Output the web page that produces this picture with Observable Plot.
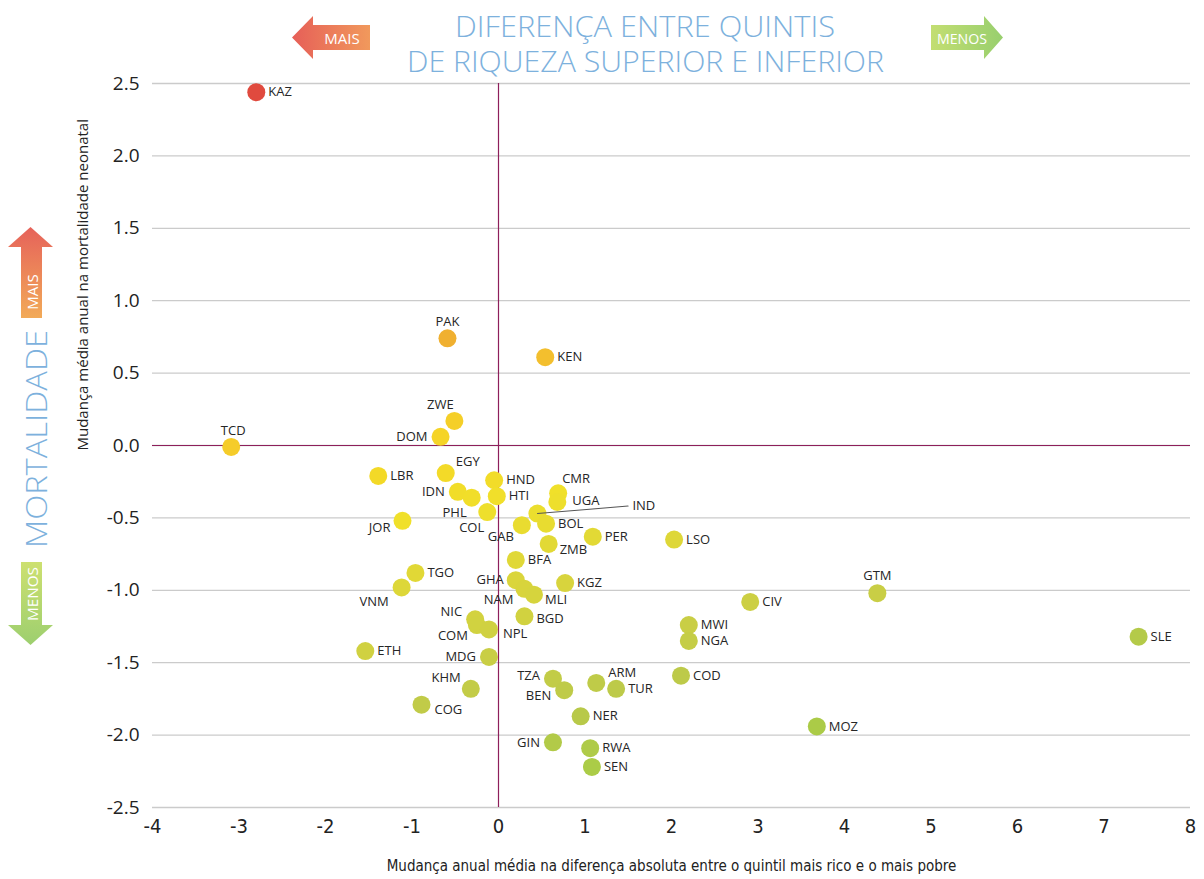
<!DOCTYPE html>
<html><head><meta charset="utf-8">
<script src="https://cdn.jsdelivr.net/npm/d3@7"></script>
<script src="https://cdn.jsdelivr.net/npm/@observablehq/plot@0.6"></script>
<style>
body{margin:0;background:#fff;}
#wrap{width:1204px;}
#head{display:block;margin-bottom:-7px;position:relative;}
#chart svg{display:block;position:relative;}
</style></head><body>
<div id="wrap"><svg id="head" width="1204" height="82"></svg><div id="chart"></div></div>
<script>
// ---- data ----
const countries = ["KAZ","PAK","KEN","ZWE","DOM","TCD","LBR","EGY","HND","IDN","PHL","HTI","CMR","UGA","IND","COL","JOR","GAB","BOL","PER","ZMB","BFA","LSO","TGO","VNM","GHA","NAM","MLI","KGZ","BGD","NIC","COM","NPL","ETH","MDG","KHM","COG","TZA","BEN","ARM","TUR","NER","GIN","RWA","SEN","GTM","CIV","MWI","NGA","SLE","COD","MOZ"];
const gapChange = [-2.80,-0.59,0.54,-0.51,-0.67,-3.09,-1.39,-0.61,-0.05,-0.47,-0.31,-0.02,0.69,0.68,0.45,-0.13,-1.11,0.27,0.55,1.09,0.58,0.20,2.03,-0.96,-1.12,0.20,0.30,0.41,0.77,0.30,-0.27,-0.25,-0.11,-1.54,-0.11,-0.32,-0.89,0.63,0.76,1.13,1.36,0.95,0.63,1.06,1.08,4.38,2.91,2.20,2.20,7.40,2.11,3.68];
const mortalityChange = [2.44,0.74,0.61,0.17,0.06,-0.01,-0.21,-0.19,-0.24,-0.32,-0.36,-0.35,-0.33,-0.39,-0.47,-0.46,-0.52,-0.55,-0.54,-0.63,-0.68,-0.79,-0.65,-0.88,-0.98,-0.93,-0.99,-1.03,-0.95,-1.18,-1.20,-1.24,-1.27,-1.42,-1.46,-1.68,-1.79,-1.61,-1.69,-1.64,-1.68,-1.87,-2.05,-2.09,-2.22,-1.02,-1.08,-1.24,-1.35,-1.32,-1.59,-1.94];
const xTicks = [-4,-3,-2,-1,0,1,2,3,4,5,6,7,8];
const yTicks = [-2.5,-2,-1.5,-1,-0.5,0,0.5,1,1.5,2,2.5];
const xTitle = "Mudança anual média na diferença absoluta entre o quintil mais rico e o mais pobre";
const yTitle = "Mudança média anual na mortalidade neonatal";
const titleLines = ["DIFERENÇA ENTRE QUINTIS","DE RIQUEZA SUPERIOR E INFERIOR"];

// label placement (style): [dx, dy, anchor]; default = right
const labelOffset = {
  PAK:[0,-17,"middle"], TCD:[2,-16,"middle"], GTM:[0,-17,"middle"], ZWE:[-14,-16,"middle"],
  DOM:[-13,0,"end"], IDN:[-13,0,"end"], GHA:[-12,0,"end"], MDG:[-13,0,"end"], GIN:[-13,0,"end"],
  EGY:[10,-11,"start"], CMR:[4,-14,"start"], UGA:[15,-1,"start"],
  PHL:[-5,15,"end"], COL:[-3,16,"end"], GAB:[-8,12,"end"], JOR:[-12,7,"end"],
  ZMB:[11,6,"start"], VNM:[-13,14,"end"], NAM:[-11,11,"end"], MLI:[11,5,"start"], BGD:[12,2,"start"],
  NIC:[-13,-7,"end"], COM:[-9,11,"end"], NPL:[14,4,"start"], KHM:[-10,-11,"end"],
  COG:[13,5,"start"], TZA:[-13,-3,"end"], BEN:[-13,6,"end"], ARM:[12,-10,"start"],
  IND:[95,-8,"start"]
};
const defaultOffset = [12,0,"start"];

const data = countries.map((c,i)=>({code:c, x:gapChange[i], y:mortalityChange[i]}));
const score = d => d.y - 0.1*d.x;

const groups = d3.groups(data, d => (labelOffset[d.code]||defaultOffset).join("|"));
const labelMarks = groups.map(([key, rows]) => {
  const [dx, dy, anchor] = key.split("|");
  return Plot.text(rows, {x:"x", y:"y", text:"code", dx:+dx, dy:+dy, textAnchor:anchor,
    fontSize:13, fill:"#262626", fontFamily:"Open Sans"});
});

const condensed = "'DejaVu Sans Condensed', 'Open Sans', sans-serif";
const H = 804;
const plot = Plot.plot({
  width:1204, height:H,
  marginLeft:152, marginRight:14, marginTop:8, marginBottom:72,
  x:{domain:[-4,8], label:null},
  y:{domain:[-2.5,2.5], label:null},
  color:{type:"linear",
    domain:[-2.4,-1.9,-1.4,-0.9,-0.4,0.1,0.5,0.8,2.7],
    range:["#a8cc46","#bac94a","#cbcf44","#dcd63a","#f0e02a","#f5d526","#f4c22e","#f0b030","#e04a3e"],
    clamp:true},
  style:{fontFamily:"Open Sans", background:"transparent", overflow:"visible"},
  marks:[
    Plot.gridY(yTicks,{stroke:"#cbcbcb", strokeOpacity:1, strokeWidth:1.3}),
    Plot.ruleY([0],{stroke:"#8e1f5b", strokeWidth:1.2}),
    Plot.ruleX([0],{stroke:"#8e1f5b", strokeWidth:1.2}),
    Plot.axisY(yTicks,{tickSize:0, tickPadding:13, tickFormat:d=>d.toFixed(1), fontSize:19, fill:"#222", fontFamily:"Open Sans", label:null}),
    Plot.axisX(xTicks,{tickSize:0, tickPadding:11, tickFormat:d=>String(d), fontSize:20, fill:"#222", fontFamily:condensed, label:null}),
    Plot.dot(data,{x:"x", y:"y", r:9, fill:score, stroke:null}),
    Plot.vector(data.filter(d=>d.code==="IND"),{x:"x", y:"y", anchor:"start", length:91, rotate:85.3, stroke:"#555", strokeWidth:1,
      shape:{draw(context,l){context.moveTo(0,0);context.lineTo(0,-l);}}}),
    ...labelMarks,
    Plot.text([xTitle],{frameAnchor:"bottom", dy:63, fontSize:15, fill:"#222", fontFamily:condensed}),
    Plot.text([yTitle],{frameAnchor:"left", dx:-69, dy:5, rotate:-90, fontSize:15, fill:"#222", fontFamily:"Open Sans"})
  ]
});
document.getElementById("chart").appendChild(plot);

// ---- decorations ----
function addGrad(svg, id, x1,y1,x2,y2, c1,c2){
  let defs = svg.select("defs");
  if (defs.empty()) defs = svg.insert("defs",":first-child");
  const g = defs.append("linearGradient").attr("id",id).attr("x1",x1).attr("y1",y1).attr("x2",x2).attr("y2",y2);
  g.append("stop").attr("offset","0").attr("stop-color",c1);
  g.append("stop").attr("offset","1").attr("stop-color",c2);
}
const head = d3.select("#head");
addGrad(head,"gMaisH",0,0,1,0,"#e65f58","#f1995c");
addGrad(head,"gMenosH",0,0,1,0,"#c3de72","#98cf6e");
head.append("path").attr("d","M292,37.5 L313,16 L313,25 L370,25 L370,50 L313,50 L313,59 Z").attr("fill","url(#gMaisH)");
head.append("text").attr("x",342).attr("y",38).attr("text-anchor","middle").attr("dominant-baseline","central")
  .attr("fill","#fff").attr("font-family","Open Sans").attr("font-size",15).text("MAIS");
head.append("path").attr("d","M931,25 L984,25 L984,16 L1003,37.5 L984,59 L984,50 L931,50 Z").attr("fill","url(#gMenosH)");
head.append("text").attr("x",962).attr("y",38).attr("text-anchor","middle").attr("dominant-baseline","central")
  .attr("fill","#fff").attr("font-family","Open Sans").attr("font-size",15).attr("textLength",50).attr("lengthAdjust","spacingAndGlyphs").text("MENOS");
head.append("text").attr("x",645).attr("y",37).attr("text-anchor","middle").attr("fill","#7db1dd")
  .attr("font-family","Open Sans").attr("font-weight",300).attr("font-size",30)
  .attr("textLength",380).attr("lengthAdjust","spacingAndGlyphs").text(titleLines[0]);
head.append("text").attr("x",645.5).attr("y",72).attr("text-anchor","middle").attr("fill","#7db1dd")
  .attr("font-family","Open Sans").attr("font-weight",300).attr("font-size",30)
  .attr("textLength",477).attr("lengthAdjust","spacingAndGlyphs").text(titleLines[1]);

const svg = d3.select(plot.tagName.toLowerCase()==="svg" ? plot : plot.querySelector("svg"));
const oy = 75;
addGrad(svg,"gMaisV",0,0,0,1,"#e6625a","#f2aa58");
addGrad(svg,"gMenosV",0,0,0,1,"#cde070","#9dcf6f");
const deco = svg.append("g");
deco.append("path").attr("d",`M8,${247-oy} L30.5,${227-oy} L53,${247-oy} L42,${247-oy} L42,${318-oy} L21,${318-oy} L21,${247-oy} Z`).attr("fill","url(#gMaisV)");
deco.append("text").attr("transform",`translate(31.5,${292-oy}) rotate(-90)`).attr("text-anchor","middle").attr("dominant-baseline","central")
  .attr("fill","#fff").attr("font-family","Open Sans").attr("font-size",15).text("MAIS");
deco.append("text").attr("transform",`translate(35,${439-oy}) rotate(-90)`).attr("text-anchor","middle").attr("dominant-baseline","central")
  .attr("fill","#7db1dd").attr("font-family","Open Sans").attr("font-weight",300).attr("font-size",30)
  .attr("textLength",218).attr("lengthAdjust","spacingAndGlyphs").text("MORTALIDADE");
deco.append("path").attr("d",`M21,${562-oy} L42,${562-oy} L42,${625-oy} L53,${625-oy} L30.5,${645-oy} L8,${625-oy} L21,${625-oy} Z`).attr("fill","url(#gMenosV)");
deco.append("text").attr("transform",`translate(31.5,${594-oy}) rotate(-90)`).attr("text-anchor","middle").attr("dominant-baseline","central")
  .attr("fill","#fff").attr("font-family","Open Sans").attr("font-size",15).attr("textLength",54).attr("lengthAdjust","spacingAndGlyphs").text("MENOS");
</script>
</body></html>
